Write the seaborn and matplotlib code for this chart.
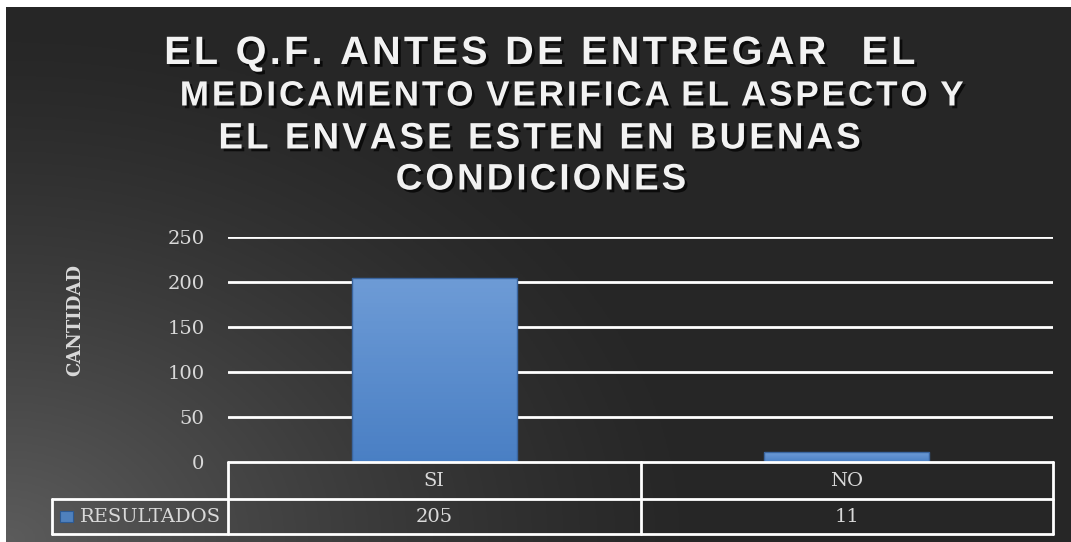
import numpy as np
import matplotlib
matplotlib.use("Agg")
import matplotlib.pyplot as plt
import matplotlib.patheffects as pe
import seaborn as sns

# datos del grafico
categorias = ["SI", "NO"]
resultados = [205, 11]
serie = "RESULTADOS"
titulo = ["EL Q.F. ANTES DE ENTREGAR  EL",
          "MEDICAMENTO VERIFICA EL ASPECTO Y",
          "EL ENVASE ESTEN EN BUENAS",
          "CONDICIONES"]
eje_y = "CANTIDAD"
ticks_y = [0, 50, 100, 150, 200, 250]

sns.set_style("dark")
plt.rcParams['font.family'] = ['DejaVu Serif']

W, H = 1071, 542
fig = plt.figure(figsize=(W / 100, H / 100), dpi=100)
fig.patch.set_facecolor("white")

# fondo degradado (claro abajo a la izquierda, oscuro arriba y a la derecha)
bg = fig.add_axes([6 / W, 0, 1 - 6 / W, (H - 7) / H])
xx, yy = np.meshgrid(np.linspace(0, 1065, 400), np.linspace(0, 535, 200))
r = np.sqrt((xx / 700.0) ** 2 + (yy / 520.0) ** 2)
v = 0.15 + 0.21 * np.clip(1 - r, 0, 1) ** 1.3
bg.imshow(np.dstack([v, v, v]), origin="lower", aspect="auto",
          extent=[0, 1, 0, 1])
bg.set_axis_off()

# area del grafico
x0, x1, ytop, ybot = 228, 1053, 237, 462
ax = fig.add_axes([x0 / W, (H - ybot) / H, (x1 - x0) / W, (ybot - ytop) / H])
ax.patch.set_alpha(0)

sns.barplot(x=categorias, y=resultados, order=categorias, ax=ax,
            width=0.4, color="#5585c6", edgecolor="#3a659f", linewidth=1,
            zorder=3)

# degradado dentro de cada barra
grad = np.linspace(0, 1, 50).reshape(-1, 1)
top_c = np.array([0.43, 0.61, 0.84])
bot_c = np.array([0.29, 0.50, 0.77])
img = bot_c + (top_c - bot_c) * grad[..., None]
for p in ax.patches:
    bx, by = p.get_x(), p.get_y()
    im = ax.imshow(img, origin="lower", aspect="auto", zorder=3.5,
                   extent=[bx, bx + p.get_width(), by, by + p.get_height()])
    im.set_clip_path(p)
    p.set_zorder(4)
    p.set_facecolor("none")

ax.set_xlim(-0.5, 1.5)
ax.set_ylim(0, 250)
ax.set_yticks(ticks_y)
ax.set_yticklabels([str(t) for t in ticks_y], color="#d9d9d9", fontsize=14)
ax.tick_params(axis="y", length=0, pad=17)
ax.set_xticks([])
ax.set_xlabel("")
for s in ax.spines.values():
    s.set_visible(False)
ax.grid(False)
for t in ticks_y[1:]:
    ax.axhline(t, color="white", lw=2, zorder=1)

ax.set_ylabel(eje_y, color="#d9d9d9", fontsize=13, fontweight="bold",
              labelpad=0)
ax.yaxis.set_label_coords(-(x0 - 84) / (x1 - x0), (ybot - 320) / (ybot - ytop))

# tabla de datos bajo el eje
tr = ax.get_xaxis_transform()
ah = ybot - ytop
r1 = -(499 - ybot) / ah
r2 = -(534 - ybot) / ah
xl = -0.5 - (x0 - 52) / ((x1 - x0) / 2)
lc = dict(color="white", lw=2, clip_on=False, transform=tr, zorder=5)
ax.plot([-0.5, 1.5], [0, 0], **lc)
ax.plot([xl, 1.5], [r1, r1], **lc)
ax.plot([xl, 1.5], [r2, r2], **lc)
ax.plot([xl, xl], [r1, r2], **lc)
for xv in [-0.5, 0.5, 1.5]:
    ax.plot([xv, xv], [0, r2], **lc)

for i, (c, val) in enumerate(zip(categorias, resultados)):
    ax.text(i, r1 / 2, c, transform=tr, ha="center", va="center",
            fontsize=14, color="#d9d9d9")
    ax.text(i, (r1 + r2) / 2, str(val), transform=tr, ha="center",
            va="center", fontsize=14, color="#d9d9d9")

ux = (x1 - x0) / 2
ax.add_patch(plt.Rectangle((-0.5 - (x0 - 60) / ux, (r1 + r2) / 2 - 0.026),
                           13 / ux, 0.05, transform=tr, clip_on=False,
                           facecolor="#4f81bd", edgecolor="#2c5a94", lw=0.8,
                           zorder=6))
ax.text(-0.5 - (x0 - 80) / ux, (r1 + r2) / 2, serie, transform=tr,
        ha="left", va="center", fontsize=14, color="#d9d9d9")


# titulo: espacio extra entre letras con espacios finos
def espaciar(linea, gap=" ", hair_gap=True):
    letras = ["\u200a".join(p) for p in linea.split(" ")]
    sep = "\u200a" + gap + "\u200a" if hair_gap else gap
    return sep.join(letras)


sombra = [pe.SimplePatchShadow(offset=(2, -2), shadow_rgbFace="black",
                               alpha=0.7), pe.Normal()]
ys = [53, 96, 139, 180]
xs = [539, 571, 540, 541]
tamanos = [28.5, 25.2, 26.5, 26.5]
gaps = [" ", " \u200a", " ", " "]
for linea, xv, yv, fs, g in zip(titulo, xs, ys, tamanos, gaps):
    fig.text(xv / W, 1 - yv / H, espaciar(linea, g, hair_gap=(g == " ")),
             ha="center", va="center", fontsize=fs, fontweight="bold",
             color="#f2f2f2", family=["Liberation Sans", "DejaVu Sans"],
             path_effects=sombra)

fig.savefig("out.png", dpi=100)
